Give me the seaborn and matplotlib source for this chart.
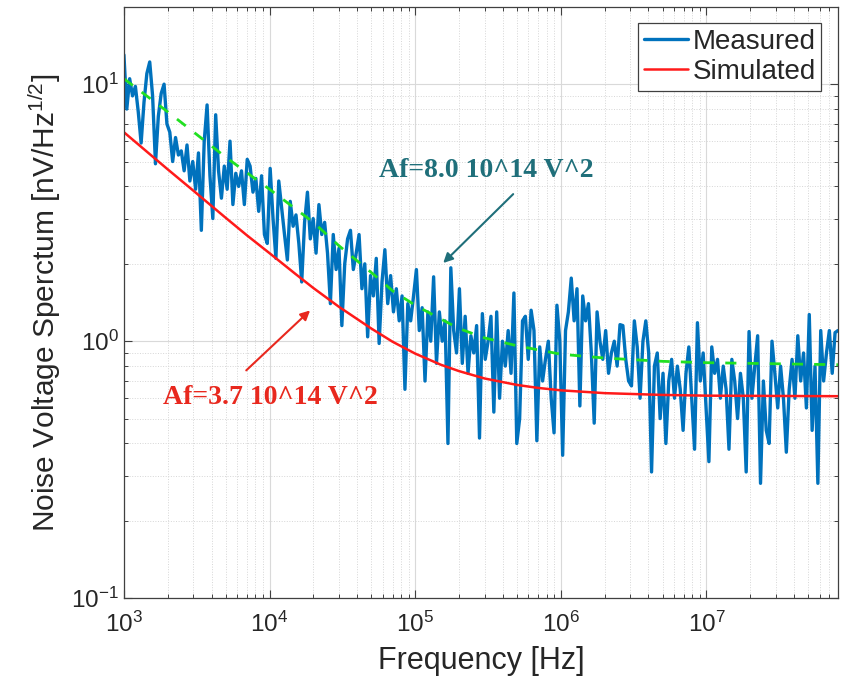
import numpy as np
import pandas as pd
import matplotlib.pyplot as plt
import seaborn as sns

# style: MATLAB-like log-log figure
sns.set_style("whitegrid")
plt.rcParams['font.family'] = ['Liberation Sans', 'DejaVu Sans']
plt.rcParams['mathtext.fontset'] = 'custom'
plt.rcParams['mathtext.rm'] = 'Liberation Sans'
plt.rcParams['mathtext.it'] = 'Liberation Sans:italic'

# measured noise spectrum (log-spaced from 1 kHz to 80 MHz)
meas_val = [
    13.0, 8.0, 10.5, 9.0, 9.8, 7.8, 5.9, 8.5, 11.0, 12.2,
    9.0, 4.9, 7.5, 9.2, 10.0, 7.0, 6.5, 5.0, 6.2, 5.3,
    5.5, 4.6, 5.8, 4.2, 5.0, 3.9, 5.4, 2.7, 6.0, 8.3,
    4.4, 3.0, 7.6, 4.6, 3.6, 4.8, 3.9, 6.0, 3.4, 4.5,
    4.0, 4.6, 3.4, 5.1, 4.8, 3.8, 4.3, 3.2, 4.4, 2.6,
    2.4, 4.7, 3.0, 2.1, 4.2, 3.3, 2.6, 2.07, 3.5, 2.8,
    3.1, 2.4, 1.7, 2.9, 3.8, 2.5, 3.0, 2.2, 3.4, 2.6,
    2.9, 2.2, 1.4, 2.6, 1.9, 2.3, 1.15, 2.0, 2.5, 2.7,
    1.9, 2.2, 2.6, 1.6, 2.0, 1.04, 1.8, 1.5, 2.1, 0.98,
    1.7, 2.27, 1.4, 1.8, 1.3, 1.6, 1.2, 1.5, 0.65, 1.4,
    1.2, 1.5, 1.9, 1.1, 1.35, 0.7, 1.3, 1.0, 1.78, 0.82,
    1.3, 1.0, 1.2, 0.40, 1.93, 1.1, 0.9, 1.6, 0.82, 1.25,
    0.75, 1.05, 0.9, 1.15, 0.42, 1.28, 0.85, 1.0, 1.25, 0.53,
    1.3, 0.6, 1.0, 0.8, 1.1, 0.75, 1.54, 0.40, 0.5, 1.2,
    1.25, 0.85, 1.32, 1.1, 0.41, 0.95, 0.7, 0.85, 1.0, 0.6,
    0.44, 1.38, 1.0, 0.36, 1.1, 1.3, 1.76, 1.2, 1.6, 0.56,
    1.5, 1.2, 1.4, 0.9, 0.48, 1.3, 1.0, 0.85, 1.1, 0.75,
    0.9, 1.0, 0.8, 1.16, 1.15, 0.85, 0.7, 0.67, 1.2, 0.95,
    0.6, 1.0, 1.2, 0.9, 0.31, 0.8, 0.9, 0.5, 0.75, 0.40,
    0.7, 0.85, 0.6, 0.8, 0.65, 0.45, 0.75, 0.95, 0.6, 0.38,
    1.18, 0.7, 0.9, 0.55, 0.34, 0.95, 0.75, 0.85, 0.6, 0.8,
    0.65, 0.38, 0.85, 0.7, 0.5, 0.75, 0.6, 0.31, 1.09, 0.6,
    0.8, 1.05, 0.28, 0.7, 0.45, 0.4, 1.0, 0.75, 0.55, 0.8,
    0.6, 0.37, 0.65, 0.85, 0.6, 1.05, 0.7, 0.9, 0.55, 1.27,
    0.45, 0.8, 0.28, 1.1, 0.7, 0.9, 1.1, 0.75, 1.08, 1.1,
]
meas_freq = np.geomspace(1e3, 8e7, len(meas_val))

# simulated curve (Af = 3.7e14 V^2)
sim_freq = [1e3, 1.5e3, 2e3, 3e3, 5e3, 7e3, 1e4, 1.5e4, 2e4, 3e4, 5e4, 7e4,
            1e5, 1.5e5, 2e5, 3e5, 5e5, 7e5, 1e6, 2e6, 5e6, 1e7, 8e7]
sim_val = [6.50, 5.35, 4.66, 3.85, 3.02, 2.58, 2.20, 1.83, 1.61, 1.36, 1.12, 0.995,
           0.895, 0.81, 0.765, 0.716, 0.676, 0.658, 0.644, 0.628, 0.618, 0.614, 0.611]

# dashed fit (Af = 8.0e14 V^2)
fit_freq = [1e3, 2e3, 5e3, 1e4, 2e4, 3e4, 5e4, 7e4, 1e5, 1.5e5, 2e5, 3e5,
            5e5, 1e6, 2e6, 5e6, 1e7, 8e7]
fit_val = [10.5, 7.8, 5.2, 3.9, 2.9, 2.35, 1.85, 1.57, 1.38, 1.22, 1.12, 1.03,
           0.96, 0.89, 0.86, 0.835, 0.825, 0.81]

meas = pd.DataFrame({'f': meas_freq, 'v': meas_val})
sim = pd.DataFrame({'f': sim_freq, 'v': sim_val})
fit = pd.DataFrame({'f': fit_freq, 'v': fit_val})

fig, ax = plt.subplots(figsize=(8.43, 6.76), dpi=100)
fig.subplots_adjust(left=0.147, right=0.994, bottom=0.115, top=0.990)

sns.lineplot(data=meas, x='f', y='v', ax=ax, color='#0072BD', lw=2.4, label='Measured')
sns.lineplot(data=sim, x='f', y='v', ax=ax, color='#ff1a1a', lw=1.8, label='Simulated')
sns.lineplot(data=fit, x='f', y='v', ax=ax, color='#22e022', lw=2.0, dashes=False,
             linestyle=(0, (4, 4)), legend=False)

ax.set_xscale('log')
ax.set_yscale('log')
ax.set_xlim(1e3, 8e7)
ax.set_ylim(1e-1, 20)

ax.grid(True, which='major', color='#d9d9d9', lw=0.8, ls='-')
ax.grid(True, which='minor', color='#d6d6d6', lw=0.7, ls=':')
ax.tick_params(which='both', direction='in', top=True, right=True,
               bottom=True, left=True, color='#404040', labelcolor='#262626')
ax.tick_params(which='major', length=6, width=0.8, labelsize=17.5)
ax.tick_params(which='minor', length=3, width=0.7)
ax.tick_params(axis='x', pad=10)
for s in ax.spines.values():
    s.set_color('#404040')
    s.set_linewidth(0.9)

ax.set_xlabel('Frequency [Hz]', fontsize=22, color='#262626', labelpad=6)
ax.set_ylabel(r'Noise Voltage Sperctum [nV/Hz$^{1/2}$]', fontsize=21.5, color='#262626', labelpad=6)

# annotations
teal = '#1f6f7a'
red = '#e8281e'
ax.text(5.6e4, 4.63, 'Af=8.0 10^14 V^2', color=teal, fontsize=20, fontweight='bold',
        family='Liberation Serif', ha='left', va='center')
ax.annotate('', xy=(1.51e5, 1.98), xytext=(4.86e5, 3.8),
            arrowprops=dict(arrowstyle='-|>', color=teal, lw=1.5, mutation_scale=14))
ax.text(1.85e3, 0.605, 'Af=3.7 10^14 V^2', color=red, fontsize=20, fontweight='bold',
        family='Liberation Serif', ha='left', va='center')
ax.annotate('', xy=(1.96e4, 1.34), xytext=(6.7e3, 0.757),
            arrowprops=dict(arrowstyle='-|>', color=red, lw=1.5, mutation_scale=14))

leg = ax.legend(loc='upper right', fontsize=20, frameon=True, fancybox=False,
                framealpha=1, edgecolor='#404040', handlelength=1.6,
                handletextpad=0.15, labelspacing=0.15, borderpad=0.2, borderaxespad=0.6)
leg.get_frame().set_linewidth(0.9)

plt.savefig('out.png', dpi=100)
